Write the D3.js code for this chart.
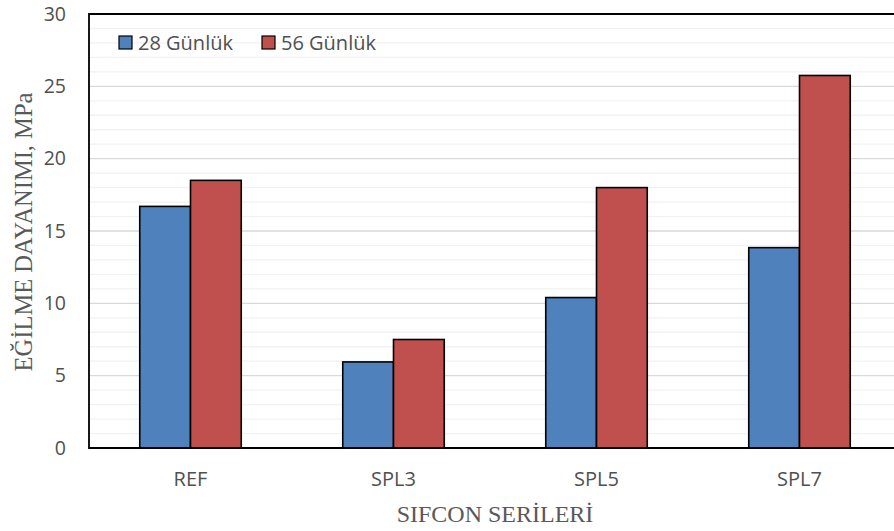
<!DOCTYPE html>
<html>
<head>
<meta charset="utf-8">
<script src="https://cdn.jsdelivr.net/npm/d3@7"></script>
<style>
  body { margin: 0; background: #fff; }
  svg { display: block; }
</style>
</head>
<body>
<div id="chart"></div>
<script>
// chart values
const categories = ['REF', 'SPL3', 'SPL5', 'SPL7'];
const seriesNames = ['28 Günlük', '56 Günlük'];
const day28 = [16.7, 5.95, 10.4, 13.85];
const day56 = [18.5, 7.5, 18.0, 25.75];
const yTicks = [0, 5, 10, 15, 20, 25, 30];
const colors = ['#4f81bd', '#c0504d'];

const width = 894;
const height = 531;
const margin = {top: 14, right: -7, bottom: 83, left: 89};
const labelFont = 'Open Sans, sans-serif';
const titleFont = 'Liberation Serif, serif';

const svg = d3.select('#chart')
  .append('svg')
  .attr('width', width)
  .attr('height', height);

const x = d3.scaleBand()
  .domain(categories)
  .range([margin.left, width - margin.right])
  .paddingInner(0.5)
  .paddingOuter(0.25);

const xs = d3.scaleBand()
  .domain(seriesNames)
  .range([0, x.bandwidth()]);

const y = d3.scaleLinear()
  .domain([0, 30])
  .range([height - margin.bottom, margin.top]);

// minor grid
svg.append('g')
  .selectAll('line')
  .data(d3.range(1, 30).filter(d => d % 5 !== 0))
  .join('line')
  .attr('x1', margin.left).attr('x2', width)
  .attr('y1', d => y(d)).attr('y2', d => y(d))
  .attr('stroke', '#f2f2f2').attr('stroke-width', 1.3);

// major grid
svg.append('g')
  .selectAll('line')
  .data(yTicks.slice(1, -1))
  .join('line')
  .attr('x1', margin.left).attr('x2', width)
  .attr('y1', d => y(d)).attr('y2', d => y(d))
  .attr('stroke', '#d9d9d9').attr('stroke-width', 1.3);

const rows = categories.map((c, i) => ({cat: c, values: [day28[i], day56[i]]}));

svg.append('g')
  .selectAll('g')
  .data(rows)
  .join('g')
  .attr('transform', d => `translate(${x(d.cat)},0)`)
  .selectAll('rect')
  .data(d => d.values.map((v, k) => ({name: seriesNames[k], v, k})))
  .join('rect')
  .attr('x', d => xs(d.name))
  .attr('y', d => y(d.v))
  .attr('width', xs.bandwidth())
  .attr('height', d => y(0) - y(d.v))
  .attr('fill', d => colors[d.k])
  .attr('stroke', '#000')
  .attr('stroke-width', 1.6);

// frame (left, top, bottom)
svg.append('path')
  .attr('d', `M${width},${margin.top}H${margin.left}V${y(0)}H${width}`)
  .attr('fill', 'none')
  .attr('stroke', '#000')
  .attr('stroke-width', 1.8);

// y axis labels
svg.append('g')
  .attr('transform', `translate(${margin.left - 23},0)`)
  .call(d3.axisLeft(y).tickValues(yTicks).tickSize(0).tickPadding(0))
  .call(g => g.select('.domain').remove())
  .selectAll('text')
  .attr('font-family', labelFont)
  .attr('font-size', 19.5)
  .attr('fill', '#505050');

// x axis labels
svg.append('g')
  .attr('transform', `translate(0,${y(0) + 24})`)
  .call(d3.axisBottom(x).tickSize(0).tickPadding(0))
  .call(g => g.select('.domain').remove())
  .selectAll('text')
  .attr('font-family', labelFont)
  .attr('font-size', 20)
  .attr('fill', '#505050');

// axis titles
svg.append('text')
  .attr('x', 495)
  .attr('y', 522)
  .attr('text-anchor', 'middle')
  .attr('font-family', titleFont)
  .attr('font-size', 24)
  .attr('fill', '#595959')
  .text('SIFCON SERİLERİ');

svg.append('text')
  .attr('transform', `translate(32,232) rotate(-90)`)
  .attr('text-anchor', 'middle')
  .attr('font-family', titleFont)
  .attr('font-size', 24.5)
  .attr('fill', '#595959')
  .text('EĞİLME DAYANIMI, MPa');

// legend
const legend = svg.append('g')
  .selectAll('g')
  .data(seriesNames)
  .join('g')
  .attr('transform', (d, i) => `translate(${119 + i * 143},36)`);

legend.append('rect')
  .attr('width', 13).attr('height', 13)
  .attr('fill', (d, i) => colors[i])
  .attr('stroke', '#000').attr('stroke-width', 1.2);

legend.append('text')
  .attr('x', 19).attr('y', 13.5)
  .attr('font-family', labelFont)
  .attr('font-size', 20)
  .attr('fill', '#505050')
  .text(d => d);
</script>
</body>
</html>
